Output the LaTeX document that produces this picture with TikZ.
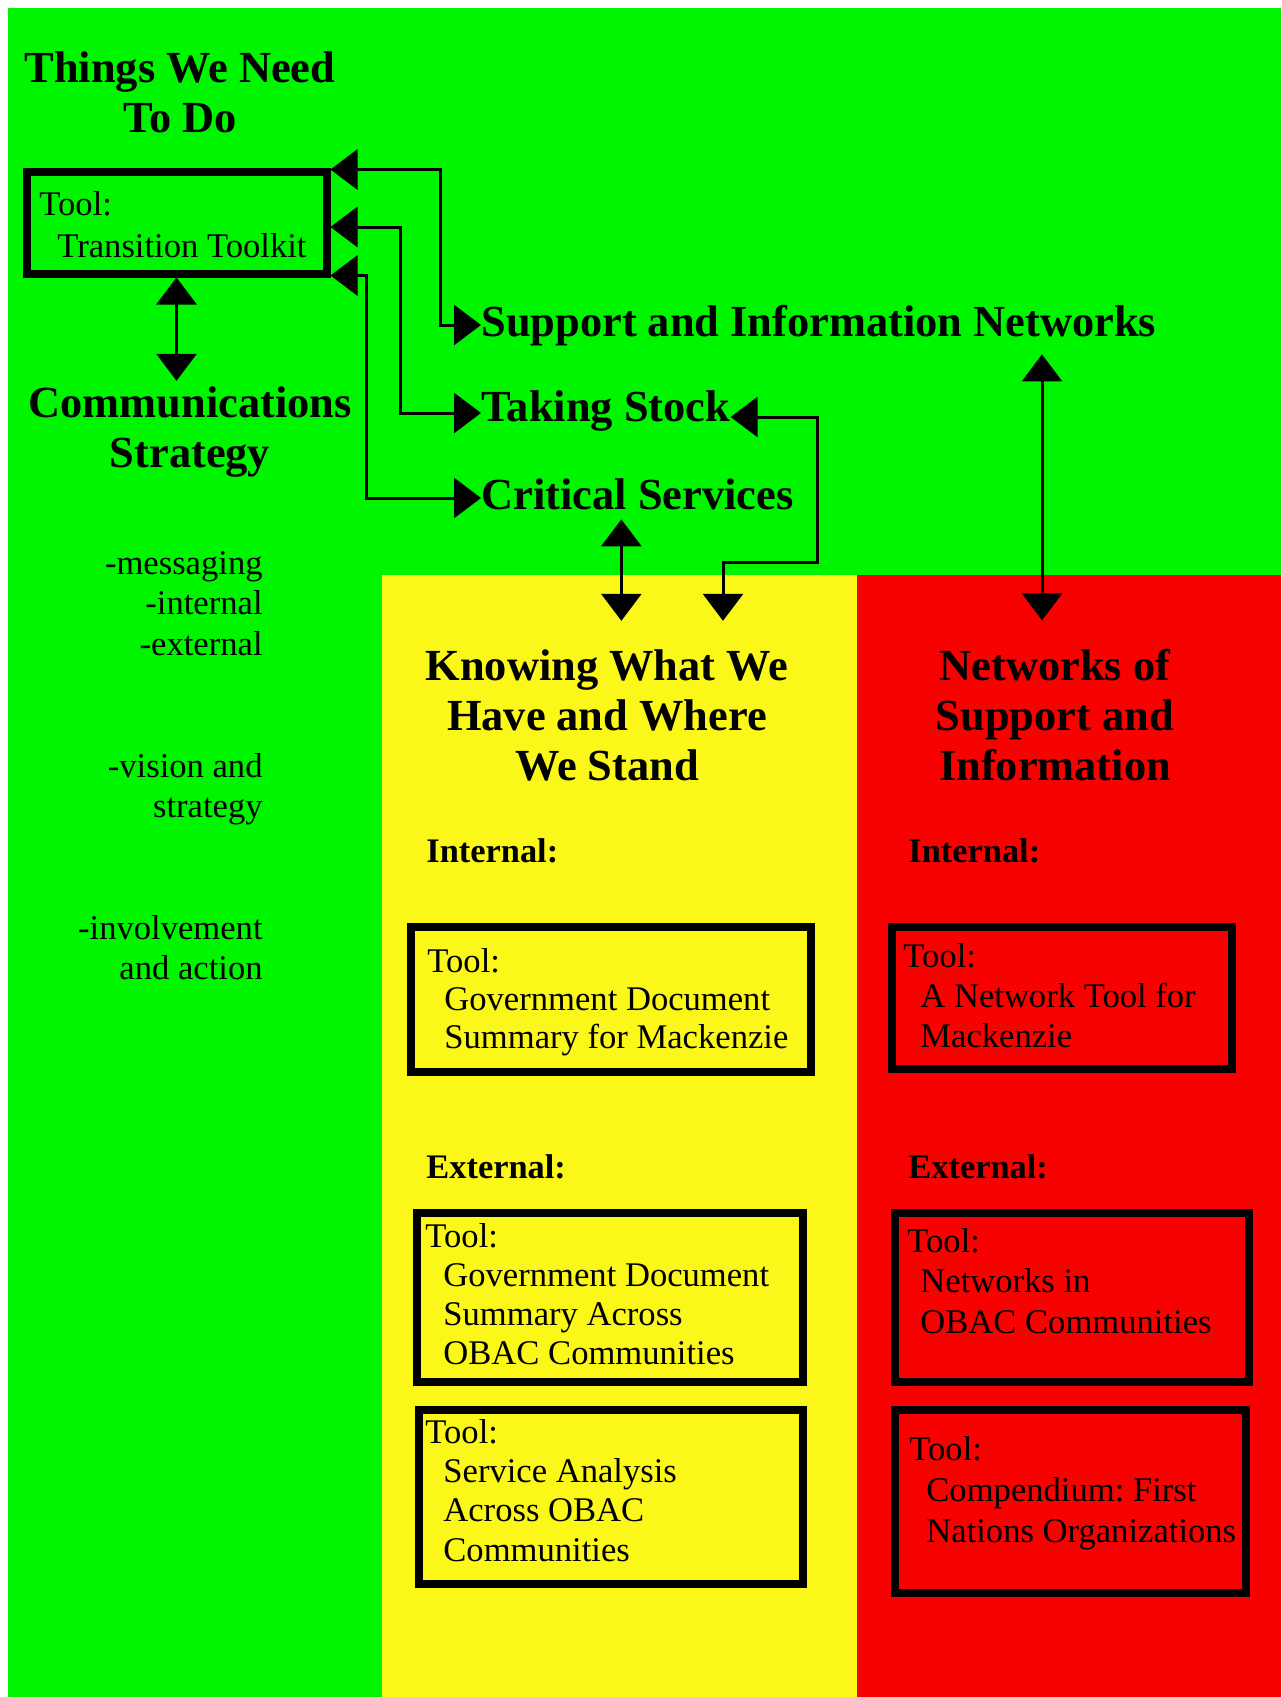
\documentclass[tikz,border=0pt]{standalone}
\usepackage{fontspec}
\setmainfont{Liberation Serif}
\frenchspacing
\usetikzlibrary{arrows.meta,positioning}
\definecolor{grn}{RGB}{0,245,0}
\definecolor{ylw}{RGB}{250,247,25}
\definecolor{rd}{RGB}{247,2,0}
\newcommand{\toolind}[1][8.5pt]{\hspace*{#1}}
\tikzset{
  head/.style={font=\bfseries\fontsize{22.2pt}{25pt}\selectfont, inner sep=0pt},
  headline/.style={head, text height=15pt, text depth=4pt, anchor=base west},
  headblock/.style={head, text width=220pt, align=flush center, anchor=base},
  sub/.style={font=\bfseries\fontsize{17.2pt}{20pt}\selectfont, inner sep=0pt, anchor=base west},
  note/.style={font=\fontsize{17.3pt}{20.3pt}\selectfont, inner sep=0pt, text width=120pt, align=flush right, anchor=base east},
  tooltext/.style={font=\fontsize{17.3pt}{#1}\selectfont, inner sep=0pt, text width=220pt, align=flush left, anchor=base west},
  tooltext/.default=19.7pt,
  toolbox/.style={draw, line width=4pt, inner sep=0pt},
  conn/.style={<->, line width=1.5pt},
}
\begin{document}
\begin{tikzpicture}[x=0.5pt,y=-0.5pt,>={Triangle[width=20pt,length=13.5pt]}]
% panels
\useasboundingbox (0,0) rectangle (1281,1697);
\fill[white] (0,0) rectangle (1281,1697);
\fill[grn] (8,8) rectangle (1281,1697);
\fill[ylw] (382,575) rectangle (857,1697);
\fill[rd] (857,575) rectangle (1281,1697);

% left column
\node[headblock] (todo) at (180,82) {Things We Need\\To Do};
\node[toolbox, minimum width=150pt, minimum height=51pt] (tk) at (176.5,222.5) {};
\node[tooltext=21pt] (tkT) at (39,215) {Tool:\\\toolind[9pt]Transition Toolkit};
\node[headblock] (comm) at (190,417) {Communications\\Strategy};
\node[note] (msg) at (263,574) {-messaging\\-internal\\-external};
\node[note] (vis) at (263,777) {-vision and\\strategy};
\node[note] (inv) at (263,939) {-involvement\\and action};

% headings next to the toolkit
\node[headline] (sin) at (481,336) {Support and Information Networks};
\node[headline] (take) at (481,421) {Taking Stock};
\node[headline] (crit) at (481,509) {Critical Services};

% yellow column
\node[headblock] (knw) at (607,680) {Knowing What We\\Have and Where\\We Stand};
\node[sub] (kin) at (426,862) {Internal:};
\node[toolbox, minimum width=200pt, minimum height=72.5pt] (govmack) at (611,999.5) {};
\node[tooltext=19pt] (govmackT) at (427,972) {Tool:\\\toolind Government Document\\\toolind Summary for Mackenzie};
\node[sub] (kex) at (426,1178) {External:};
\node[toolbox, minimum width=193pt, minimum height=84.5pt] (govobac) at (610,1297.5) {};
\node[tooltext=19.5pt] (govobacT) at (425,1247) {Tool:\\\toolind[9pt]Government Document\\\toolind[9pt]Summary Across\\\toolind[9pt]OBAC Communities};
\node[toolbox, minimum width=192pt, minimum height=87pt] (servobac) at (611,1497) {};
\node[tooltext=19.7pt] (servobacT) at (425,1443) {Tool:\\\toolind[9pt]Service Analysis\\\toolind[9pt]Across OBAC\\\toolind[9pt]Communities};

% red column
\node[headblock] (net) at (1055,680) {Networks of\\Support and\\Information};
\node[sub] (nin) at (908,862) {Internal:};
\node[toolbox, minimum width=170pt, minimum height=71pt] (netmack) at (1062,998) {};
\node[tooltext=20pt] (netmackT) at (903,967) {Tool:\\\toolind A Network Tool for\\\toolind Mackenzie};
\node[sub] (nex) at (908,1178) {External:};
\node[toolbox, minimum width=177pt, minimum height=84.5pt] (netobac) at (1072,1297.5) {};
\node[tooltext=20.3pt] (netobacT) at (907,1252) {Tool:\\\toolind[6.5pt]Networks in\\\toolind[6.5pt]OBAC Communities};
\node[toolbox, minimum width=175.5pt, minimum height=91.5pt] (comp) at (1070.5,1501.5) {};
\node[tooltext=20.5pt] (compT) at (909,1460) {Tool:\\\toolind Compendium: First\\\toolind Nations Organizations};

% connectors
\coordinate (j1) at (440,250);
\coordinate (j2) at (400,300);
\coordinate (j3) at (366,400);
\coordinate (j4) at (817,562);
\coordinate (j5) at (723,562);
\coordinate (crittip) at ([xshift=-8pt]crit.south);
\coordinate (nettip) at ([xshift=-6.5pt]net.north);

\draw[conn] ([yshift=-1pt]tk.north east) -| (j1) |- (sin.west);
\draw[conn] ([yshift=-2.25pt]tk.east) -| (j2) |- ([yshift=-1.5pt]take.west);
\draw[conn] ([yshift=1pt]tk.south east) -| (j3) |- (crit.west);
\draw[conn, shorten >=2.5pt] (tk.south) -- (tk.south |- comm.north);
\draw[conn, shorten >=14pt] ([yshift=-3.5pt]take.east) -| (j4) -- (j5) -- (j5 |- knw.north);
\draw[conn, shorten <=1pt, shorten >=14pt] (crittip) -- (crittip |- knw.north);
\draw[conn, shorten <=5pt, shorten >=14pt] (nettip |- sin.south) -- (nettip);
\end{tikzpicture}
\end{document}
